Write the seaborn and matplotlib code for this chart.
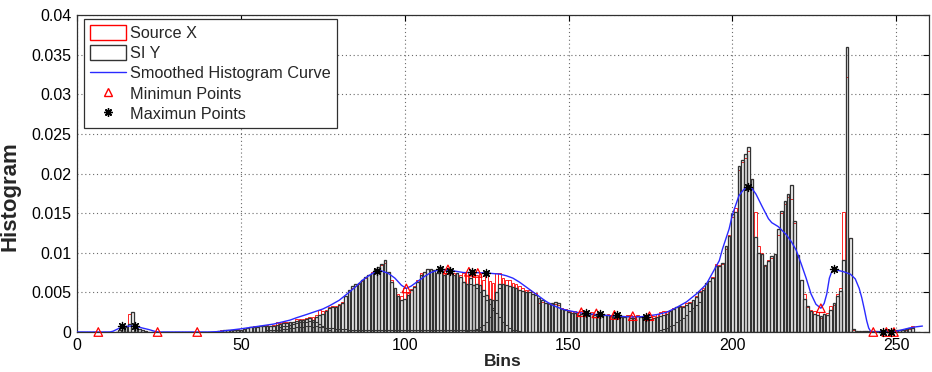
import numpy as np
import pandas as pd
import matplotlib
matplotlib.use("Agg")
import matplotlib.pyplot as plt
from matplotlib.patches import Patch
from matplotlib.lines import Line2D
import seaborn as sns

# ---------------- data (histogram values in units of 1e-3) ----------------
bins = list(range(0, 258))

source_x = [
    0, 0, 0, 0, 0, 0, 0, 0, 0, 0,
    0, 0, 0, 0.2, 0.5, 0.7, 2.3, 0.8, 0.7, 0.4,
    0.2, 0.1, 0, 0, 0, 0, 0, 0, 0, 0,
    0, 0, 0, 0, 0, 0, 0, 0, 0, 0,
    0, 0, 0, 0.1, 0.2, 0.2, 0.3, 0.3, 0.3, 0.4,
    0.3, 0.4, 0.5, 0.6, 0.7, 0.6, 0.8, 0.8, 0.9, 0.8,
    0.9, 1.3, 1.1, 1.2, 1.2, 1.3, 1.3, 1.6, 1.7, 1.6,
    1.8, 1.9, 1.9, 2.2, 2.8, 2.6, 2.8, 3.2, 3.3, 3.3,
    3.5, 3.8, 4.5, 5.0, 5.6, 5.8, 6.0, 6.4, 6.8, 7.2,
    7.6, 8.0, 8.2, 8.5, 8.7, 7.6, 6.5, 5.6, 4.8, 4.5,
    5.5, 4.9, 5.4, 5.8, 6.6, 7.5, 7.6, 8.0, 8.0, 7.8,
    7.5, 8.2, 7.4, 8.0, 7.6, 7.4, 7.5, 7.2, 7.4, 7.6,
    7.2, 6.9, 7.2, 7.4, 6.6, 7.2, 6.4, 6.2, 7.4, 7.5,
    6.8, 6.6, 6.5, 6.2, 6.0, 5.8, 5.6, 5.3, 5.3, 5.0,
    4.9, 3.6, 3.8, 3.6, 3.5, 3.5, 3.5, 3.4, 3.0, 2.9,
    2.7, 2.6, 2.6, 2.5, 2.6, 2.5, 2.4, 2.5, 2.3, 2.4,
    2.3, 2.2, 2.3, 2.2, 2.4, 2.3, 2.0, 2.0, 2.1, 2.1,
    2.0, 2.1, 2.0, 1.9, 2.1, 1.9, 2.0, 2.3, 2.5, 2.6,
    2.7, 2.8, 3.0, 3.2, 3.2, 3.3, 3.6, 3.8, 4.0, 4.5,
    5.2, 5.6, 6.0, 6.4, 7.0, 8.6, 8.4, 8.6, 10.5, 12.3,
    14.5, 15.6, 20.5, 21.4, 22.0, 22.8, 19.3, 15.2, 10.8, 10.0,
    8.3, 9.1, 9.4, 9.8, 12.2, 15.0, 16.2, 17.0, 16.8, 13.8,
    9.5, 6.6, 4.8, 3.2, 2.8, 2.6, 2.5, 1.8, 2.3, 2.4,
    3.3, 3.4, 4.8, 5.5, 15.2, 32.2, 11.8, 0.3, 0, 0,
    0, 0, 0.1, 0, 0.1, 0, 0.1, 0, 0.1, 0.1,
    0.1, 0.2, 0.3, 0.3, 0.4, 0.7, 0, 0,
]

si_y = [
    0, 0, 0, 0, 0, 0, 0, 0, 0, 0,
    0, 0, 0, 0.2, 0.5, 0.6, 1.0, 2.5, 0.8, 0.4,
    0.2, 0.1, 0, 0, 0, 0, 0, 0, 0, 0,
    0, 0, 0, 0, 0, 0, 0, 0, 0, 0,
    0, 0, 0, 0.1, 0.1, 0.2, 0.2, 0.2, 0.3, 0.3,
    0.3, 0.4, 0.5, 0.6, 0.6, 0.6, 0.7, 0.7, 0.8, 0.8,
    0.8, 0.9, 1.0, 1.1, 1.1, 1.2, 1.2, 1.4, 1.5, 1.5,
    1.7, 1.8, 1.5, 1.9, 2.1, 2.3, 2.6, 3.0, 3.2, 3.2,
    3.4, 3.6, 4.6, 5.3, 5.8, 6.1, 6.2, 6.6, 6.9, 7.2,
    7.5, 7.9, 8.2, 8.6, 9.1, 7.6, 6.3, 5.5, 4.6, 4.0,
    4.2, 4.7, 5.3, 5.7, 6.3, 7.2, 7.6, 8.0, 8.0, 7.8,
    7.4, 8.2, 7.2, 7.8, 7.4, 7.2, 7.4, 7.0, 6.3, 6.1,
    6.8, 5.9, 6.1, 5.9, 5.3, 4.7, 4.2, 4.0, 5.0, 6.1,
    6.1, 5.9, 5.8, 5.7, 5.5, 5.3, 5.2, 5.1, 5.0, 4.8,
    4.7, 4.3, 4.0, 3.7, 3.6, 3.6, 3.8, 3.7, 2.9, 2.8,
    2.5, 2.4, 2.4, 2.2, 2.3, 2.4, 2.2, 2.3, 2.1, 2.2,
    2.2, 2.1, 2.2, 2.0, 2.1, 2.2, 1.9, 1.9, 2.0, 1.8,
    1.8, 2.0, 1.9, 1.8, 1.9, 1.7, 1.8, 1.9, 2.0, 2.2,
    2.3, 2.6, 2.9, 3.1, 3.3, 3.2, 3.4, 3.7, 4.1, 4.4,
    5.1, 5.3, 6.2, 6.4, 6.8, 8.3, 8.3, 8.7, 10.8, 12.1,
    14.9, 15.1, 20.9, 21.7, 22.5, 23.3, 19.3, 12.0, 10.0, 9.8,
    8.5, 8.9, 9.6, 9.9, 13.0, 15.3, 16.5, 17.4, 18.6, 14.0,
    9.7, 6.6, 4.2, 3.3, 2.6, 2.3, 2.2, 2.0, 2.3, 2.1,
    2.8, 3.6, 4.6, 5.2, 9.1, 35.9, 11.9, 0.4, 0.1, 0.1,
    0.1, 0.1, 0.1, 0.1, 0.1, 0.1, 0.1, 0.1, 0.1, 0.1,
    0.2, 0.3, 0.3, 0.4, 0.5, 0.5, 0, 0,
]

# partial region histograms drawn with the SI Y style (no legend entry)
part_low_start = 58
part_low = [0.2, 0.2, 0.3, 0.3, 0.3, 0.4, 0.4, 0.5, 0.5, 0.6, 0.6, 0.6,
            0.7, 0.7, 0.6, 0.7, 0.6, 0.6, 0.5, 0.5, 0.5, 0.4,
            0.4, 0.4, 0.4, 0.3, 0.3, 0.3, 0.3, 0.3, 0.3, 0.3,
            0.3, 0.3, 0.3, 0.3, 0.3, 0.3, 0.3, 0.3, 0.3, 0.3,
            0.3, 0.3, 0.2, 0.3, 0.3, 0.2, 0.3, 0.3, 0.2, 0.3,
            0.2, 0.2, 0.3, 0.2, 0.2, 0.2, 0.3, 0.2, 0.2, 0.2,
            0.2, 0.2, 0.2, 0.2, 0.1, 0.1, 0.1, 0.1, 0.1, 0.1]
part_mid_start = 62
part_mid = [0.6, 0.7, 0.8, 0.9, 1.0, 1.1, 1.2, 1.3, 1.3, 1.4, 1.3, 1.2, 1.0, 0.7, 0.5, 0.3]
part_desc_start = 118
part_desc = [6.3, 6.1, 6.0, 5.9, 5.6, 5.0, 4.5, 4.0, 3.5, 3.0, 2.4, 1.9, 1.3, 0.9, 0.5, 0.3, 0.2, 0.1]
part_rise_start = 119
part_rise = [0.1, 0.2, 0.3, 0.4, 0.6, 0.9, 1.2, 1.9, 2.8, 4.0, 5.5]
part_high_start = 178
part_high = [0.3, 0.4, 0.5, 0.7, 0.9, 1.2, 1.5, 1.8, 2.2, 2.6, 3.0, 3.4, 3.8]

# smoothed histogram curve (bin, value 1e-3)
curve_x = [0, 10, 11, 13, 15, 16, 18, 20, 22, 24, 25, 40, 43, 46, 50, 55, 60, 65, 67, 70,
           75, 77, 80, 83, 85, 87, 89, 91, 92, 93, 95, 97, 99, 100.5, 102, 104, 106, 108, 110, 111,
           113, 115, 118, 121, 125, 129, 131, 133, 135, 138, 140, 143, 145, 148, 150, 153, 156, 160, 165, 169,
           173, 177, 180, 183, 186, 189, 192, 194, 196, 197, 199, 200, 202, 203.5, 204.7, 206, 207.2, 209, 211, 212,
           214, 216.4, 218, 219.5, 221, 222.5, 224, 225.5, 227, 228, 228.8, 229.6, 230.3, 231, 232, 234, 236, 237.5, 238.7, 239.5,
           240.3, 241, 241.6, 242.3, 248, 250, 252, 254, 256, 258]
curve_y = [0, 0, 0.1, 0.5, 0.7, 0.75, 0.7, 0.5, 0.3, 0.05, 0, 0, 0.05, 0.2, 0.4, 0.7, 1.0, 1.5, 1.8, 2.2,
           2.9, 3.3, 4.0, 5.0, 5.7, 6.5, 7.1, 7.6, 7.75, 7.7, 7.4, 6.8, 5.9, 5.5, 5.8, 6.4, 7.0, 7.5, 7.8, 7.9,
           7.8, 7.7, 7.5, 7.5, 7.45, 7.3, 7.1, 6.8, 6.3, 5.4, 4.8, 3.9, 3.4, 2.9, 2.7, 2.45, 2.3, 2.15, 2.0, 1.9,
           1.95, 2.2, 2.5, 3.1, 3.8, 4.8, 6.0, 7.5, 9.0, 10.5, 13.0, 14.8, 17.2, 18.0, 18.3, 18.1, 17.4, 15.9, 14.3, 13.8,
           13.3, 12.3, 11.4, 10.3, 8.6, 6.8, 4.8, 3.5, 3.0, 3.6, 4.8, 6.8, 7.6, 7.9, 7.8, 7.6, 7.3, 6.7, 5.5, 4.3,
           2.8, 1.4, 0.5, 0, 0, 0.1, 0.3, 0.5, 0.65, 0.75]

min_x = [6.5, 24.6, 36.7, 100.5, 113.2, 119.6, 122.3, 153.9, 158.5, 164.0, 169.6, 174.7, 227.0, 243.0, 247.0, 249.3]
min_y = [0, 0, 0, 5.5, 7.9, 7.6, 7.45, 2.5, 2.35, 2.15, 2.0, 2.0, 3.0, 0, 0, 0]
max_x = [13.6, 17.7, 91.5, 110.8, 113.9, 120.6, 124.7, 155.2, 159.7, 164.8, 173.7, 204.7, 231.0, 246.0, 248.3]
max_y = [0.8, 0.75, 7.75, 8.0, 7.75, 7.55, 7.45, 2.45, 2.3, 2.1, 1.95, 18.3, 7.9, 0, 0]

x_ticks = [0, 50, 100, 150, 200, 250]
y_ticks = [0, 0.005, 0.01, 0.015, 0.02, 0.025, 0.03, 0.035, 0.04]
y_tick_labels = ["0", "0.005", "0.01", "0.015", "0.02", "0.025", "0.03", "0.035", "0.04"]

SCALE = 1e-3

# ---------------- style ----------------
sns.set_style("white")
plt.rcParams["font.family"] = ["Liberation Sans", "DejaVu Sans"]

fig = plt.figure(figsize=(9.32, 3.72), dpi=100)
ax = fig.add_axes([77 / 932, 40 / 372, 852 / 932, 317 / 372])
ax.set_axisbelow(True)

black = "#333333"

sns.histplot(x=bins, weights=np.array(source_x) * SCALE, discrete=True, shrink=0.8,
             fill=True, facecolor="white", edgecolor="red", linewidth=0.6, ax=ax)

def draw_part(start, vals):
    xs = list(range(start, start + len(vals)))
    sns.histplot(x=xs, weights=np.array(vals) * SCALE, discrete=True, shrink=0.8,
                 fill=False, color=black, linewidth=0.8, ax=ax)

for st, vals in [(part_low_start, part_low), (part_mid_start, part_mid),
                 (part_desc_start, part_desc), (part_rise_start, part_rise),
                 (part_high_start, part_high)]:
    draw_part(st, vals)

sns.histplot(x=bins, weights=np.array(si_y) * SCALE, discrete=True, shrink=0.8,
             fill=False, color=black, linewidth=0.95, ax=ax)

sns.lineplot(x=curve_x, y=np.array(curve_y) * SCALE, color="#2a2aff", linewidth=1.0,
             estimator=None, sort=False, ax=ax, zorder=5)

sns.scatterplot(x=min_x, y=np.array(min_y) * SCALE, marker="^", s=38,
                facecolors="none", edgecolor="red", linewidth=0.9, ax=ax, zorder=6, clip_on=False)
sns.scatterplot(x=max_x, y=np.array(max_y) * SCALE, marker=(8, 2, 0), s=34,
                color="black", edgecolor="black", linewidth=0.9, ax=ax, zorder=7, clip_on=False)

ax.set_xlim(0, 260)
ax.set_ylim(0, 0.04)
ax.set_xticks(x_ticks)
ax.set_xticklabels([str(t) for t in x_ticks])
ax.set_yticks(y_ticks)
ax.set_yticklabels(y_tick_labels)

ax.grid(True, linestyle=(0, (1, 2.5)), color="#6a6a6a", linewidth=0.8)
ax.tick_params(direction="in", length=4.5, width=0.8, top=True, right=True,
               labelsize=11.5, colors="black", pad=4)
for sp in ax.spines.values():
    sp.set_visible(True)
    sp.set_color("#303030")
    sp.set_linewidth(0.9)

ax.set_xlabel("Bins", fontsize=12.5, fontweight="bold", labelpad=1)
ax.set_ylabel("Histogram", fontsize=16, fontweight="bold")
ax.yaxis.set_label_coords((20 - 77) / 852, (332 - 196) / 317)

handles = [
    Patch(facecolor="white", edgecolor="red", linewidth=1.0),
    Patch(facecolor="white", edgecolor=black, linewidth=1.0),
    Line2D([], [], color="#2a2aff", linewidth=1.0),
    Line2D([], [], marker="^", linestyle="none", markerfacecolor="none",
           markeredgecolor="red", markersize=6),
    Line2D([], [], marker=(8, 2, 0), linestyle="none", color="black", markersize=6),
]
labels = ["Source X", "SI Y", "Smoothed Histogram Curve", "Minimun Points", "Maximun Points"]
leg = ax.legend(handles, labels, loc="upper left", bbox_to_anchor=(7 / 852, 1 - 4.3 / 317),
                borderaxespad=0, fontsize=11.7, frameon=True, fancybox=False,
                framealpha=1, edgecolor="#303030", handlelength=2.2, handleheight=1.0,
                handletextpad=0.3, labelspacing=0.27, borderpad=0.36)
leg.get_frame().set_linewidth(0.9)
leg.set_zorder(10)

fig.savefig("out.png", dpi=100)
